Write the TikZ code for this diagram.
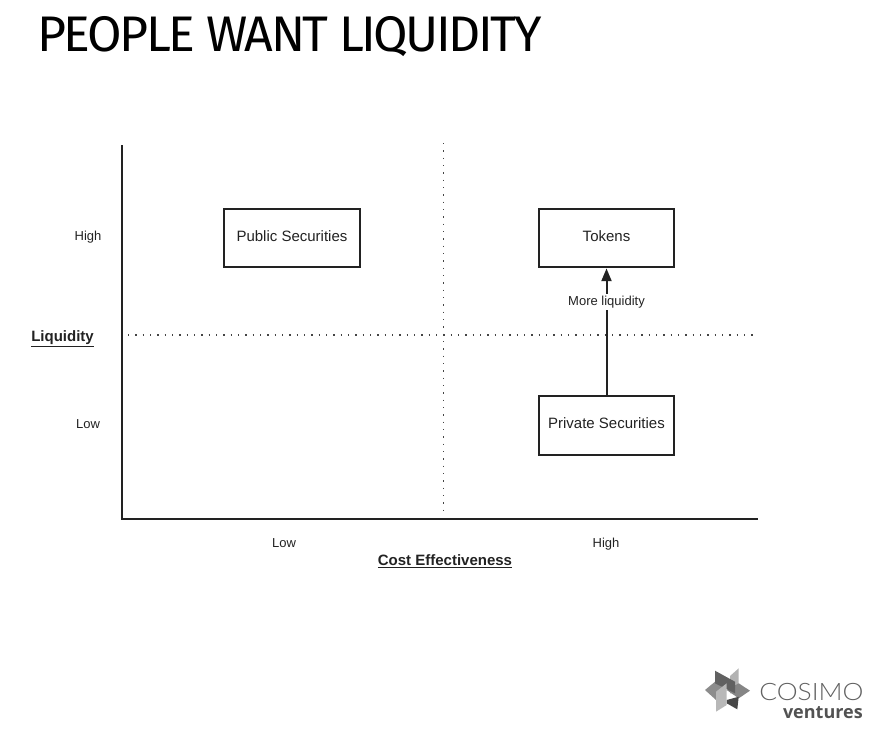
\documentclass[tikz,border=0pt]{standalone}
\usepackage{fontspec}
\setmainfont{Liberation Sans}
\newfontfamily\titlefont[LetterSpace=-5]{Fira Sans}
\newfontfamily\logolight{Lato Light}
\newfontfamily\logobold{Open Sans}
\usetikzlibrary{arrows.meta}
\definecolor{ink}{HTML}{222222}
\definecolor{dotc}{HTML}{444444}
\tikzset{
  box/.style={draw=ink,line width=1.5pt,fill=white,minimum width=101.6pt,minimum height=44.2pt,inner sep=0pt,font=\fontsize{11.25}{13}\selectfont,text=ink},
  axis/.style={draw=ink,line width=1.5pt},
  guide/.style={draw=dotc,line width=0.9pt,dash pattern=on 0.9pt off 4.6pt},
  tick/.style={font=\fontsize{9.75}{12}\selectfont,text=ink,inner sep=0pt},
  axlabel/.style={font=\fontsize{11.25}{13}\selectfont\bfseries,text=ink,inner sep=0pt},
  link/.style={draw=ink,line width=1.5pt,-{Triangle[length=9.5pt,width=7.5pt]}}
}
\newcommand{\boxtext}[1]{\raisebox{3pt}{#1}}
\begin{document}
\begin{tikzpicture}[x=0.75pt,y=-0.75pt]
\useasboundingbox (0,0) rectangle (877,735);
\node[anchor=base west,inner sep=0pt,font=\titlefont\fontsize{37.5}{40}\selectfont] (title) at (37,52) {PEOPLE WANT LIQUIDITY};

\coordinate (ytop) at (122,145);
\coordinate (orig) at (122,519);
\coordinate (xend) at (758,519);
\coordinate (hs) at (128,335);
\coordinate (he) at (758,335);
\coordinate (vs) at (443.5,143);
\coordinate (ve) at (443.5,514);
\draw[guide] (hs) -- (he);
\draw[guide] (vs) -- (ve);
\draw[axis] (ytop) -- (orig) -- (xend);

\node[box] (pub) at (292,238) {\boxtext{Public Securities}};
\node[box] (tok) at (606.5,238) {\boxtext{Tokens}};
\node[box] (prv) at (606.5,425.5) {\boxtext{Private Securities}};
\draw[link] (prv) -- (tok);
\node[fill=white,tick,inner sep=1.5pt] (morelabel) at (606.5,302) {More liquidity};

\node[tick] (yhigh) at (88,237.5) {High};
\node[tick] (ylow) at (88,424) {Low};
\node[tick] (xlow) at (284,543) {Low};
\node[tick] (xhigh) at (606,544.5) {High};
\node[axlabel] (ylab) at (62.5,339) {\underline{Liquidity}};
\node[axlabel] (xlab) at (445,561) {\underline{Cost Effectiveness}};

% logo
\fill[black!45] (705,690) -- (715,681.7) -- (726.7,690) -- (716,700) -- cycle;
\fill[black!30] (738.7,668.3) -- (738.7,693.3) -- (730,693.3) -- (730,676) -- cycle;
\fill[black!48] (738.7,683.3) -- (750,690.7) -- (738.7,698.3) -- (726.7,690) -- cycle;
\fill[black!62] (715,670.7) -- (735,681.7) -- (735,693.3) -- (715,683.3) -- cycle;
\fill[black!72] (726.7,700) -- (738.7,696.7) -- (737.3,709.3) -- (726.7,703.3) -- cycle;
\fill[black!28] (716,691.7) -- (726.7,683.3) -- (726.7,705) -- (716,711.7) -- cycle;
\node[anchor=west,inner sep=0pt,text=black!62,font=\logolight\fontsize{18}{20}\selectfont] (cosimo) at (759,691.5) {\scalebox{1.1}[1]{COSIMO}};
\node[anchor=east,inner sep=0pt,text=black!68,font=\logobold\bfseries\fontsize{13.5}{15}\selectfont] (ventures) at (863,712.5) {ventures};
\end{tikzpicture}
\end{document}
